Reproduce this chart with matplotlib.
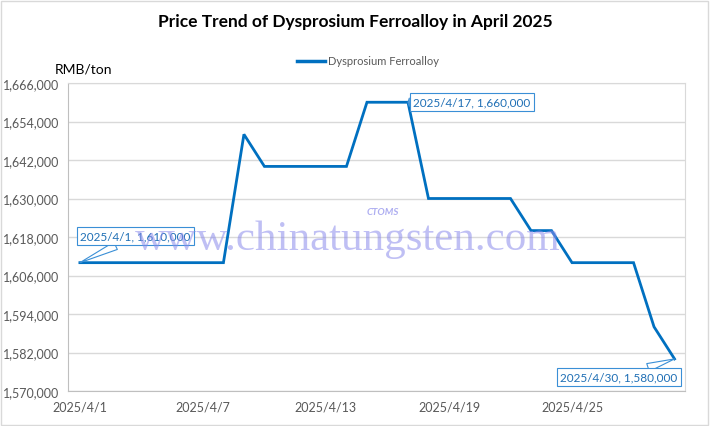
import numpy as np
import pandas as pd
import matplotlib
matplotlib.use("Agg")
import matplotlib.pyplot as plt
import matplotlib.dates as mdates
from matplotlib.ticker import FuncFormatter
from matplotlib.patches import Rectangle

# daily prices, RMB/ton
dates = pd.date_range("2025-04-01", "2025-04-30", freq="D")
prices = [1610000, 1610000, 1610000, 1610000, 1610000, 1610000, 1610000, 1610000,
          1650000, 1640000, 1640000, 1640000, 1640000, 1640000, 1660000, 1660000,
          1660000, 1630000, 1630000, 1630000, 1630000, 1630000, 1620000, 1620000,
          1610000, 1610000, 1610000, 1610000, 1590000, 1580000]
yticks = np.arange(1570000, 1666001, 12000)
callout_idx = [0, 16, 29]
callout_offsets = [(40, 19), (46, 0), (-40, -13)]

blue = "#0070C0"
grid_c = "#D9D9D9"
txt_gray = "#595959"

plt.rcParams["font.family"] = ["Lato", "DejaVu Sans"]

fig = plt.figure(figsize=(7.10, 4.27), dpi=100)
ax = fig.add_axes([68/710, 1-392/427, (685-68)/710, (392-84)/427])

x = mdates.date2num(dates)
ax.plot(x, prices, color=blue, lw=2.0, solid_joinstyle="miter", zorder=3)

ax.set_xlim(x[0]-0.58, x[-1]+0.51)
ax.set_ylim(yticks[0], yticks[-1])
ax.set_yticks(yticks)
ax.yaxis.set_major_formatter(FuncFormatter(lambda v, p: f"{int(v):,}"))
ax.set_xticks(x[::6])
ax.set_xticklabels([f"{d.year}/{d.month}/{d.day}" for d in dates[::6]])
ax.tick_params(axis="both", length=0, colors=txt_gray, labelsize=9)
ax.tick_params(axis="x", pad=7)
ax.tick_params(axis="y", pad=6)
ax.grid(axis="y", color=grid_c, lw=1)
ax.set_axisbelow(True)
for s in ["top", "right"]:
    ax.spines[s].set_color(grid_c)
for s in ["left", "bottom"]:
    ax.spines[s].set_color("#BFBFBF")

# callouts
for i, off in zip(callout_idx, callout_offsets):
    lab = f"{dates[i].year}/{dates[i].month}/{dates[i].day}, {prices[i]:,}"
    ax.annotate(lab, xy=(x[i], prices[i]), xytext=off, textcoords="offset points",
                ha="center", va="center", fontsize=8.5, color="#1F6FB5", zorder=6,
                bbox=dict(boxstyle="square,pad=0.3", fc="white", ec="#3A8FD6", lw=0.8),
                arrowprops=dict(arrowstyle="wedge,tail_width=0.7,shrink_factor=0.5",
                                fc="white", ec="#3A8FD6", lw=0.8, shrinkA=0, shrinkB=0))

# watermark
fig.text(348/710, 1-240/427, "www.chinatungsten.com", family="Liberation Serif",
         fontsize=31, color="#8C8CEB", alpha=0.55, ha="center", va="center", zorder=10)
fig.text(383/710, 1-213/427, "CTOMS", fontsize=7, fontweight="bold", style="italic",
         color="#8C8CEB", alpha=0.7, ha="center", va="center", zorder=10)

# title, unit, legend
fig.text(355/710, 1-22/427, "Price Trend of Dysprosium Ferroalloy in April 2025",
         fontsize=12.5, fontweight="bold", ha="center", va="center")
fig.text(55/710, 1-69/427, "RMB/ton", fontsize=10, ha="left", va="center")
fig.legend([plt.Line2D([], [], color=blue, lw=2.5)], ["Dysprosium Ferroalloy"],
           loc="center", bbox_to_anchor=(368/710, 1-62/427), frameon=False,
           fontsize=8, handlelength=2.5, handletextpad=0.3, labelcolor=txt_gray)

# outer chart border
fig.patches.append(Rectangle((1/710, 1/427), 707/710, 424/427, transform=fig.transFigure,
                             fill=False, ec="#D9D9D9", lw=1))

fig.savefig("out.png", dpi=100)
